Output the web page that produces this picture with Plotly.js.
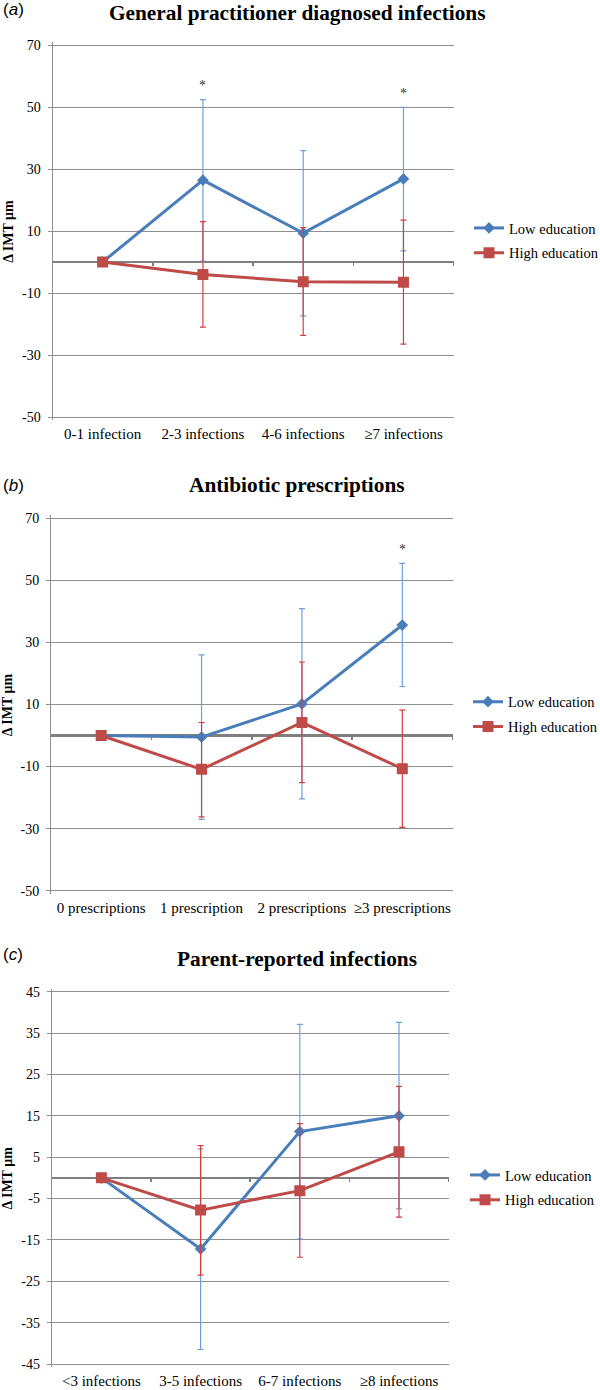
<!DOCTYPE html>
<html>
<head>
<meta charset="utf-8">
<script src="https://cdn.plot.ly/plotly-3.0.1.min.js"></script>
<style>html,body{margin:0;padding:0;background:#fff;}#chart{width:600px;height:1390px;}</style>
</head>
<body>
<div id="chart"></div>
<script>
// ---------- DATA ----------
// (a) General practitioner diagnosed infections
var catsA = ['0-1 infection', '2-3 infections', '4-6 infections', '\u22657 infections'];
var lowA = [0, 26.4, 9.3, 26.8];
var lowA_hi = [null, 52.4, 35.9, 49.9];
var lowA_lo = [null, 0.3, -17.4, 3.6];
var highA = [0, -4.0, -6.4, -6.5];
var highA_hi = [null, 13.0, 11.1, 13.5];
var highA_lo = [null, -21.0, -23.7, -26.5];
var sigA = [false, true, false, true];
var ticksA = [70, 50, 30, 10, -10, -30, -50];

// (b) Antibiotic prescriptions
var catsB = ['0 prescriptions', '1 prescription', '2 prescriptions', '\u22653 prescriptions'];
var lowB = [0, -0.5, 10.2, 35.6];
var lowB_hi = [null, 26.0, 40.9, 55.5];
var lowB_lo = [null, -27.0, -20.4, 15.8];
var highB = [0, -10.9, 4.2, -10.7];
var highB_hi = [null, 4.2, 23.7, 8.2];
var highB_lo = [null, -26.2, -15.2, -29.6];
var sigB = [false, false, false, true];
var ticksB = [70, 50, 30, 10, -10, -30, -50];

// (c) Parent-reported infections
var catsC = ['<3 infections', '3-5 infections', '6-7 infections', '\u22658 infections'];
var lowC = [0, -17.2, 11.2, 15.0];
var lowC_hi = [null, 7.0, 37.1, 37.6];
var lowC_lo = [null, -41.5, -14.8, -7.5];
var highC = [0, -7.8, -3.1, 6.3];
var highC_hi = [null, 7.8, 13.1, 22.1];
var highC_lo = [null, -23.5, -19.2, -9.5];
var sigC = [false, false, false, false];
var ticksC = [45, 35, 25, 15, 5, -5, -15, -25, -35, -45];

var seriesNames = ['Low education', 'High education'];
var panelTitles = ['General practitioner diagnosed infections', 'Antibiotic prescriptions', 'Parent-reported infections'];
var panelLetters = ['a', 'b', 'c'];
var yTitle = '\u0394 IMT \u03bcm';

// ---------- STYLE ----------
var SERIF = 'Liberation Serif';
var SANS = 'Liberation Sans';
var BLUE = '#4a7ebb', BLUE_ERR = '#6d9fdc';
var RED = '#be4b48', RED_ERR = '#d73c3c';
var GRID = '#8f8f8f', ZERO = '#7f7f7f';

var W = 600, H = 1390;
// pixel geometry of each plot area: [left, right, top, bottom]
var boxes = [
  [52.5, 453.6, 45.0, 417.0],
  [51.0, 452.5, 518.3, 890.7],
  [51.8, 448.6, 991.7, 1364.0]
];
var PADPX = 3; // extra pixels so that the end gridlines are kept
var legendPix = [[469, 240.5], [468, 714.2], [465, 1187.5]];
var titlePix = [13, 485, 959];
var letterPix = [10, 485, 955];

function errPlus(v, hi) { return v.map(function (d, i) { return hi[i] == null ? NaN : hi[i] - d; }); }
function errMinus(v, lo) { return v.map(function (d, i) { return lo[i] == null ? NaN : d - lo[i]; }); }

var panels = [
  {cats: catsA, low: lowA, lowHi: lowA_hi, lowLo: lowA_lo, high: highA, highHi: highA_hi, highLo: highA_lo, sig: sigA, ticks: ticksA},
  {cats: catsB, low: lowB, lowHi: lowB_hi, lowLo: lowB_lo, high: highB, highHi: highB_hi, highLo: highB_lo, sig: sigB, ticks: ticksB},
  {cats: catsC, low: lowC, lowHi: lowC_hi, lowLo: lowC_lo, high: highC, highHi: highC_hi, highLo: highC_lo, sig: sigC, ticks: ticksC}
];

var traces = [];
var layout = {
  width: W, height: H,
  margin: {l: 0, r: 0, t: 0, b: 0, autoexpand: false},
  paper_bgcolor: '#fff', plot_bgcolor: 'rgba(0,0,0,0)',
  font: {family: SERIF, size: 14, color: '#000'},
  showlegend: true,
  annotations: []
};

panels.forEach(function (p, k) {
  var n = k + 1;
  var xs = n === 1 ? '' : String(n);
  var xName = 'x' + xs, yName = 'y' + xs;
  var legName = 'legend' + xs;
  var b = boxes[k];
  var xdom = [b[0] / W, b[1] / W];
  var ymin = Math.min.apply(null, p.ticks), ymax = Math.max.apply(null, p.ticks);
  var pxPerUnit = (b[3] - b[2]) / (ymax - ymin);
  var eps = PADPX / pxPerUnit;
  var ydom = [1 - (b[3] + PADPX) / H, 1 - (b[2] - PADPX) / H];

  traces.push({
    type: 'scatter', mode: 'lines+markers', name: seriesNames[0],
    x: p.cats, y: p.low, xaxis: xName, yaxis: yName, legend: legName, legendgroup: 'low' + n,
    line: {color: BLUE, width: 3},
    marker: {symbol: 'diamond', size: 9, color: BLUE},
    error_y: {type: 'data', symmetric: false, array: errPlus(p.low, p.lowHi), arrayminus: errMinus(p.low, p.lowLo),
      color: BLUE_ERR, thickness: 1.2, width: 3},
    hoverinfo: 'skip'
  });
  traces.push({
    type: 'scatter', mode: 'lines+markers', name: seriesNames[1],
    x: p.cats, y: p.high, xaxis: xName, yaxis: yName, legend: legName, legendgroup: 'high' + n,
    line: {color: RED, width: 3},
    marker: {symbol: 'square', size: 11, color: RED},
    error_y: {type: 'data', symmetric: false, array: errPlus(p.high, p.highHi), arrayminus: errMinus(p.high, p.highLo),
      color: RED_ERR, thickness: 1.2, width: 3},
    hoverinfo: 'skip'
  });
  // helper trace for the tick-mark axis sitting on the zero line
  var tickAxis = 'x' + (n + 3);
  traces.push({type: 'scatter', x: [], y: [], xaxis: tickAxis, yaxis: yName, showlegend: false, hoverinfo: 'skip'});

  layout['xaxis' + xs] = {
    domain: xdom, anchor: yName, type: 'category',
    categoryorder: 'array', categoryarray: p.cats, range: [-0.5, p.cats.length - 0.5],
    showgrid: false, zeroline: false, showline: false, ticks: '',
    tickfont: {family: SERIF, size: 15, color: '#000'}, ticklabelstandoff: 3,
    fixedrange: true
  };
  layout['yaxis' + xs] = {
    domain: ydom, anchor: xName, range: [ymin - eps, ymax + eps],
    tickmode: 'array', tickvals: p.ticks, ticktext: p.ticks.map(String),
    showgrid: true, gridcolor: GRID, gridwidth: 1,
    zeroline: true, zerolinecolor: ZERO, zerolinewidth: 2.5,
    showline: true, linecolor: GRID, linewidth: 1,
    ticks: 'outside', ticklen: 4, tickcolor: GRID, tickwidth: 1,
    tickfont: {family: SERIF, size: 14, color: '#000'}, ticklabelstandoff: 4,
    fixedrange: true
  };
  var zeroFrac = ydom[0] + (0 - (ymin - eps)) / ((ymax + eps) - (ymin - eps)) * (ydom[1] - ydom[0]);
  layout['xaxis' + (n + 3)] = {
    overlaying: xName, anchor: 'free', position: zeroFrac, type: 'linear',
    range: [-0.5, p.cats.length - 0.5],
    tickmode: 'array', tickvals: p.cats.map(function (c, i) { return i + 0.5; }),
    ticks: 'outside', ticklen: 3, tickwidth: 1.5, tickcolor: ZERO,
    showticklabels: false, showgrid: false, zeroline: false, showline: false, fixedrange: true
  };
  layout[legName] = {
    x: legendPix[k][0] / W, y: 1 - legendPix[k][1] / H, xanchor: 'left', yanchor: 'middle',
    xref: 'paper', yref: 'paper',
    bgcolor: 'rgba(0,0,0,0)', borderwidth: 0, tracegroupgap: 3, itemwidth: 30,
    font: {family: SERIF, size: 14.5, color: '#000'}
  };

  // titles and panel letters
  layout.annotations.push({
    xref: 'paper', yref: 'paper', x: 297 / W, y: 1 - titlePix[k] / H, xanchor: 'center', yanchor: 'middle',
    text: '<b>' + panelTitles[k] + '</b>', showarrow: false, font: {family: SERIF, size: 21.3, color: '#000'}
  });
  layout.annotations.push({
    xref: 'paper', yref: 'paper', x: 1 / W, y: 1 - letterPix[k] / H, xanchor: 'left', yanchor: 'middle',
    text: '(<i>' + panelLetters[k] + '</i>)', showarrow: false, font: {family: SANS, size: 17, color: '#000'}
  });
  layout.annotations.push({
    xref: 'paper', yref: 'paper', x: 7.7 / W, y: (ydom[0] + ydom[1]) / 2, xanchor: 'center', yanchor: 'middle',
    textangle: -90, text: '<b>' + yTitle + '</b>', showarrow: false, font: {family: SERIF, size: 14, color: '#000'}
  });
  // significance asterisks above the low-education error bars
  p.sig.forEach(function (s, i) {
    if (!s) return;
    layout.annotations.push({
      xref: xName, yref: yName, x: p.cats[i], y: p.lowHi[i], xanchor: 'center', yanchor: 'middle',
      yshift: 14, text: '*', showarrow: false, font: {family: SERIF, size: 14, color: '#333'}
    });
  });
});

Plotly.newPlot('chart', traces, layout, {staticPlot: true, displayModeBar: false});
</script>
</body>
</html>
